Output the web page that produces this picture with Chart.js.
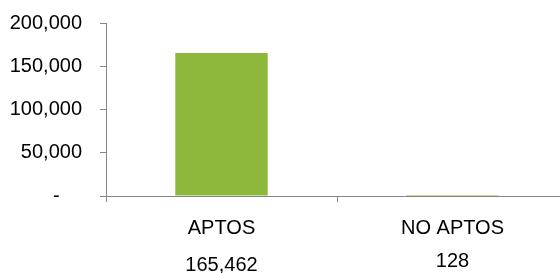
<!DOCTYPE html>
<html><head><meta charset="utf-8">
<script src="https://cdn.jsdelivr.net/npm/chart.js@4/dist/chart.umd.min.js"></script>
<style>html,body{margin:0;padding:0;overflow:hidden;background:#fff}#wrap{width:572px;height:273px}</style>
</head><body><div id="wrap"><canvas id="c" width="572" height="273"></canvas></div>
<script>
const categories = ['APTOS', 'NO APTOS'];
const values = [165462, 128];
const valueLabels = ['165,462', '128'];
const yTickValues = [0, 50000, 100000, 150000, 200000];
const yTickLabels = ['-', '50,000', '100,000', '150,000', '200,000'];

const FONT = '"Liberation Sans", Arial, sans-serif';
const AXIS = '#868686';

const valuePlugin = {
  id: 'valueRow',
  afterDraw(chart) {
    const ctx = chart.ctx, xs = chart.scales.x, area = chart.chartArea;
    ctx.save();
    ctx.font = '20px ' + FONT;
    ctx.fillStyle = '#000';
    ctx.textAlign = 'center';
    ctx.textBaseline = 'alphabetic';
    valueLabels.forEach((t, i) => {
      ctx.fillText(t, xs.getPixelForValue(i), area.bottom + (i === 0 ? 75 : 71));
    });
    ctx.restore();
  }
};

new Chart(document.getElementById('c'), {
  type: 'bar',
  data: {
    labels: categories,
    datasets: [{
      data: values,
      backgroundColor: '#8DB83B',
      borderWidth: 0,
      inflateAmount: 0,
      categoryPercentage: 1,
      barPercentage: 0.4
    }]
  },
  options: {
    responsive: false,
    animation: false,
    devicePixelRatio: 1,
    layout: { padding: { top: 23, right: 4, bottom: 0, left: 0 } },
    plugins: { legend: { display: false }, tooltip: { enabled: false } },
    scales: {
      x: {
        z: 1,
        afterFit(s) { s.height = 77; s.paddingLeft = 0; s.paddingRight = 0; },
        grid: { display: true, drawOnChartArea: false, offset: true, tickLength: 6, color: AXIS },
        border: { display: true, color: AXIS },
        ticks: { color: '#000', font: { family: FONT, size: 20 }, padding: 14, maxRotation: 0 }
      },
      y: {
        z: 1,
        min: 0, max: 200000,
        afterFit(s) { s.width = 106; s.paddingTop = 0; s.paddingBottom = 0; },
        afterBuildTicks(s) { s.ticks = yTickValues.map(v => ({ value: v })); },
        grid: { display: true, drawOnChartArea: false, tickLength: 6, color: AXIS },
        border: { display: true, color: AXIS },
        ticks: {
          color: '#000', font: { family: FONT, size: 20 }, padding: 18,
          callback(v) { const i = yTickValues.indexOf(v); const l = yTickLabels[i]; return l === '-' ? '-    ' : l; }
        }
      }
    }
  },
  plugins: [valuePlugin]
});
</script></body></html>
